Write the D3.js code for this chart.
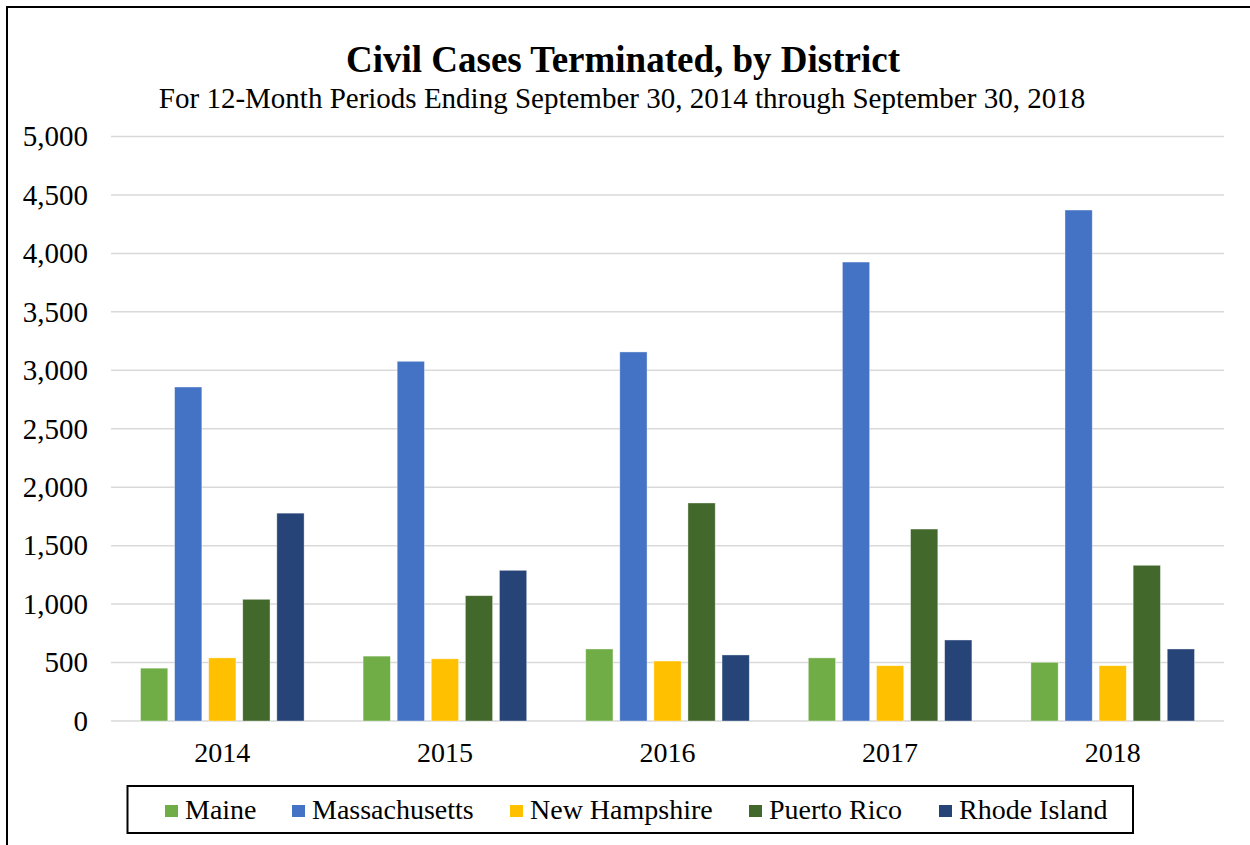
<!DOCTYPE html>
<html>
<head>
<meta charset="utf-8">
<script src="https://cdn.jsdelivr.net/npm/d3@7/dist/d3.min.js"></script>
<style>
  body { margin: 0; background: #fff; }
  text { font-family: "Liberation Serif", "Times New Roman", serif; }
</style>
</head>
<body>
<script>
var years = ["2014", "2015", "2016", "2017", "2018"];
var districts = ["Maine", "Massachusetts", "New Hampshire", "Puerto Rico", "Rhode Island"];
var colors = ["#70AD47", "#4472C4", "#FFC000", "#43682B", "#264478"];

// cases terminated per district, one value per year
var maine = [452, 555, 616, 540, 502];
var massachusetts = [2857, 3077, 3157, 3926, 4371];
var newHampshire = [540, 532, 513, 473, 473];
var puertoRico = [1041, 1072, 1865, 1642, 1332];
var rhodeIsland = [1778, 1289, 565, 693, 616];

var yTicks = [0, 500, 1000, 1500, 2000, 2500, 3000, 3500, 4000, 4500, 5000];

var seriesValues = [maine, massachusetts, newHampshire, puertoRico, rhodeIsland];

var width = 1250;
var height = 845;

var svg = d3.select("body")
            .append("svg")
               .attr("width", width)
               .attr("height", height);

// outer frame (only left/top edges fall inside the picture)
svg.append("rect")
   .attr("x", 7)
   .attr("y", 7)
   .attr("width", 1400)
   .attr("height", 1000)
   .attr("fill", "none")
   .attr("stroke", "#000")
   .attr("stroke-width", 2);

var x = d3.scaleBand()
         .domain(years)
         .range([111, 1224]);

var inner = d3.scaleBand()
         .domain(districts)
         .range([29.5, x.bandwidth() - 29.5])
         .paddingInner(0.2);

var y = d3.scaleLinear()
         .domain([0, 5000])
         .range([721, 136.5]);

var color = d3.scaleOrdinal()
         .domain(districts)
         .range(colors);

//gridlines
svg.append("g")
   .attr("class", "grid")
   .selectAll("line")
   .data(yTicks)
   .enter().append("line")
      .attr("x1", 111)
      .attr("x2", 1224)
      .attr("y1", function(d) { return y(d); })
      .attr("y2", function(d) { return y(d); })
      .attr("stroke", "#D9D9D9")
      .attr("stroke-width", 1.5);

//y axis labels
var yAxis = d3.axisLeft(y)
      .tickValues(yTicks)
      .tickFormat(d3.format(","))
      .tickSize(0)
      .tickPadding(23);

svg.append("g")
   .attr("class", "y axis")
   .attr("transform", "translate(111,0)")
   .call(yAxis)
   .call(function(g) { g.select(".domain").remove(); })
   .selectAll("text")
      .attr("font-size", 29)
      .attr("fill", "#000");

//x axis labels
var xAxis = d3.axisBottom(x)
      .tickSize(0)
      .tickPadding(21);

svg.append("g")
   .attr("class", "x axis")
   .attr("transform", "translate(0,721)")
   .call(xAxis)
   .call(function(g) { g.select(".domain").remove(); })
   .selectAll("text")
      .attr("font-size", 28)
      .attr("fill", "#000");

//bars
var groups = svg.selectAll(".year")
   .data(years)
   .enter().append("g")
      .attr("class", "year")
      .attr("transform", function(d) { return "translate(" + x(d) + ",0)"; });

groups.selectAll("rect")
   .data(function(d, i) {
      return districts.map(function(name, j) {
         return { name: name, value: seriesValues[j][i] };
      });
   })
   .enter().append("rect")
      .attr("x", function(d) { return inner(d.name); })
      .attr("width", inner.bandwidth())
      .attr("y", function(d) { return y(d.value); })
      .attr("height", function(d) { return y(0) - y(d.value); })
      .attr("fill", function(d) { return color(d.name); })
      .attr("stroke", "rgba(255,255,255,0.5)")
      .attr("stroke-width", 0.75);

//titles
svg.append("text")
   .attr("x", 623)
   .attr("y", 72)
   .attr("text-anchor", "middle")
   .attr("font-size", 37)
   .attr("font-weight", "bold")
   .text("Civil Cases Terminated, by District");

svg.append("text")
   .attr("x", 622)
   .attr("y", 108)
   .attr("text-anchor", "middle")
   .attr("font-size", 29)
   .text("For 12-Month Periods Ending September 30, 2014 through September 30, 2018");

//legend
svg.append("rect")
   .attr("x", 127.5)
   .attr("y", 786)
   .attr("width", 1005.5)
   .attr("height", 47)
   .attr("fill", "#fff")
   .attr("stroke", "#000")
   .attr("stroke-width", 2);

var legendX = [165, 292, 510, 749, 939];

var legend = svg.selectAll(".legend")
   .data(districts)
   .enter().append("g")
      .attr("class", "legend")
      .attr("transform", function(d, i) { return "translate(" + legendX[i] + ",811)"; });

legend.append("rect")
   .attr("x", 0)
   .attr("y", -6)
   .attr("width", 13)
   .attr("height", 12)
   .attr("fill", function(d) { return color(d); });

legend.append("text")
   .attr("x", 20)
   .attr("y", 8)
   .attr("font-size", 28)
   .text(function(d) { return d; });
</script>
</body>
</html>
